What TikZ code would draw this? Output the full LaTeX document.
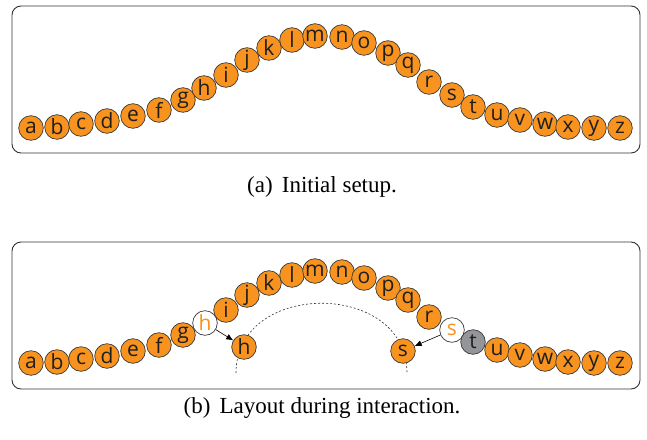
\documentclass[tikz,border=0pt]{standalone}
\usepackage{fontspec}
\setmainfont{Liberation Serif}
\newfontfamily\ballfont{Open Sans}
\usetikzlibrary{arrows.meta}
\definecolor{ballorange}{HTML}{F7931E}
\definecolor{ballgray}{HTML}{939598}
\definecolor{ballline}{HTML}{3A3A3A}
\tikzset{
  ball/.style={circle, draw=ballline, line width=0.7pt, fill=ballorange, minimum size=24.6pt, inner sep=0pt,
    font=\ballfont\fontsize{21}{21}\selectfont, text=black!88},
  ghost/.style={ball, fill=white, text=ballorange},
  grayball/.style={ball, fill=ballgray},
  panel/.style={draw=black!80, line width=0.9pt, rounded corners=9pt},
  captext/.style={font=\fontsize{23}{26}\selectfont, inner sep=0pt},
  move/.style={-{Latex[length=7pt,width=6pt]}, line width=0.6pt, black},
  track/.style={dash pattern=on 2pt off 2pt, line width=0.6pt, black!80},
}
\begin{document}
\begin{tikzpicture}[x=1pt,y=-1pt]
\useasboundingbox (0,0) rectangle (647,439);
% panel (a)
\coordinate (pa1) at (12,6);
\coordinate (pa2) at (640,153);
\draw[panel] (pa1) rectangle (pa2);
\foreach \n/\x/\y in {a/31/128,b/57/127,c/81/124,d/107/121,e/133/116,f/159/110,g/183/100,h/204/88,i/226/75,j/247/60,k/269/48,l/292/40,m/315/36,n/342/37,o/364/43,p/388/53,q/408/65,r/429/82,s/452/95,t/473/107,u/497/115,v/520/120,w/545/124,x/568/127,y/594/128,z/620/128}
  {\node[ball] (t\n) at (\x,\y) {\n};}
\node[captext] (capa) at (322,187) {(a)\hspace{0.4em}Initial setup.};
% panel (b)
\coordinate (pb1) at (12,242);
\coordinate (pb2) at (640,389);
\draw[panel] (pb1) rectangle (pb2);
\coordinate (arcL) at (236,373);
\coordinate (arcR) at (407,373);
\draw[track] (arcL) .. controls (236,280) and (407,280) .. (arcR);
\foreach \n/\x/\y in {a/31/128,b/57/127,c/81/124,d/107/121,e/133/116,f/159/110,g/183/100,i/226/75,j/247/60,k/269/48,l/292/40,m/315/36,n/342/37,o/364/43,p/388/53,q/408/65,r/429/82,u/497/115,v/520/120,w/545/124,x/568/127,y/594/128,z/620/128}
  {\node[ball] (b\n) at (\x,\y+235) {\n};}
\node[ghost] (bh) at (205,323) {h};
\node[ghost] (bs) at (452,330) {s};
\node[grayball] (bt) at (473,342) {t};
\node[ball] (nh) at (244,347) {h};
\node[ball] (ns) at (403,351) {s};
\draw[move] (bh) -- (nh);
\draw[move] (bs) -- (ns);
\node[captext] (capb) at (322,408) {(b)\hspace{0.4em}Layout during interaction.};
\end{tikzpicture}
\end{document}
